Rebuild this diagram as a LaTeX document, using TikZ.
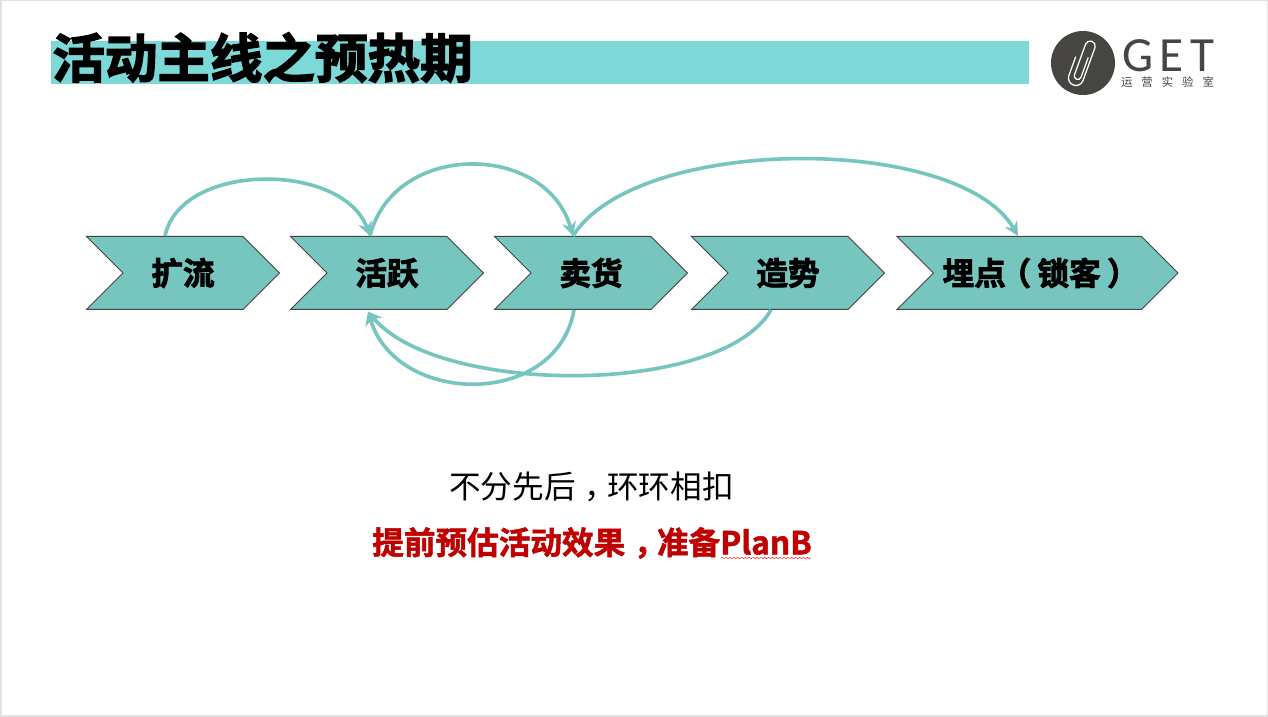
\documentclass[tikz,border=0pt]{standalone}
\usepackage{fontspec}
\usepackage{amsmath}
\setmainfont{Noto Sans CJK SC}
\newfontfamily\heavyfont[FakeBold=2.6]{Noto Sans CJK SC Bold}
\newfontfamily\redfont[FakeBold=1.6]{Noto Sans CJK SC Bold}
\newfontfamily\logofont{Carlito}
\usetikzlibrary{arrows.meta,shapes.symbols,decorations.pathmorphing}
\definecolor{teal}{HTML}{76C5BF}
\definecolor{barteal}{HTML}{7DD8D8}
\definecolor{logogray}{HTML}{474542}
\definecolor{framegray}{HTML}{E2E2E2}
\definecolor{planred}{HTML}{C00000}
\newcommand{\midcomma}{\makebox[1em][l]{\hspace{0.27em}，}}
\tikzstyle{chevron} = [signal, signal to = east, signal from = west, signal pointer angle = 90, draw = logogray, fill = teal, line width = 0.2mm, inner sep = 0pt, minimum height = 1.46cm, minimum width = 3.86cm, font = \heavyfont\fontsize{18}{20}\selectfont]
\tikzstyle{flow} = [draw = teal, line width = 0.72mm, >={Stealth[length = 2.8mm, width = 2.8mm]}]

\begin{document}
\begin{tikzpicture}
        \useasboundingbox (0, 0) rectangle (25.36, 14.34);
        \fill [white] (0, 0) rectangle (25.36, 14.34);
        \draw [framegray, line width = 0.6mm] (0, 0) rectangle (25.36, 14.34);

        \node (Bar) at (10.8, 13.09) [fill = barteal, minimum width = 19.56cm, minimum height = 0.86cm, inner sep = 0pt] {};
        \node (Title) at (1.04, 13.19) [anchor = west, inner sep = 0pt, font = \heavyfont\fontsize{29.9}{32}\selectfont] {活动主线之预热期};

        \node (Clip) at (21.66, 13.08) [circle, fill = logogray, minimum size = 1.28cm, inner sep = 0pt] {};
        \draw [white, line width = 0.25mm, rotate around = {-20:(Clip)}] (21.72, 13.22) -- (21.72, 12.80) arc (360:180:0.07) -- (21.58, 13.45) arc (180:0:0.10) -- (21.78, 12.75) arc (360:180:0.15) -- (21.48, 13.15);
        \node (Get) at (23.36, 13.22) [inner sep = 0pt, text = logogray, font = \logofont\fontsize{28}{30}\selectfont] {\makebox[1.84cm]{G\hfill E\hfill T}};
        \node (Sub) at (23.35, 12.70) [inner sep = 0pt, text = logogray, font = \fontsize{6.5}{8}\selectfont] {\makebox[1.86cm]{运\hfill 营\hfill 实\hfill 验\hfill 室}};

        \node (Kuoliu) at (3.66, 8.88) [chevron] {扩流};
        \node (Huoyue) at (7.74, 8.88) [chevron] {活跃};
        \node (Maihuo) at (11.82, 8.88) [chevron] {卖货};
        \node (Zaoshi) at (15.76, 8.88) [chevron] {造势};
        \node (Maidian) at (20.75, 8.88) [chevron, minimum width = 5.62cm] {埋点\makebox[1em][l]{\hspace{-0.2em}（}锁客\makebox[1em][l]{\hspace{0.2em}）}};

        \draw [flow, ->] ([xshift = -0.36cm]Kuoliu.north) to[out = 78, in = 110, out distance = 1.53cm, in distance = 1.58cm] ([xshift = -0.34cm]Huoyue.north);
        \draw [flow, ->] ([xshift = -0.34cm]Huoyue.north) to[out = 76, in = 106, out distance = 1.96cm, in distance = 1.96cm] ([xshift = -0.36cm]Maihuo.north);
        \draw [flow, ->] ([xshift = -0.36cm]Maihuo.north) to[out = 58, in = 120, out distance = 2.4cm, in distance = 2.36cm] ([xshift = -0.39cm]Maidian.north);
        \draw [flow, ->] ([xshift = -0.34cm]Maihuo.south) to[out = -100, in = -73, out distance = 2.0cm, in distance = 1.98cm] ([xshift = -0.38cm, yshift = -0.03cm]Huoyue.south);
        \draw [flow, ->] ([xshift = -0.34cm]Zaoshi.south) to[out = -120, in = -50, out distance = 2.0cm, in distance = 2.2cm] ([xshift = -0.38cm, yshift = -0.03cm]Huoyue.south);

        \node (Motto) at (11.83, 4.60) [font = \fontsize{18}{20}\selectfont] {不分先后\midcomma 环环相扣};
        \node (Plan) at (11.84, 3.48) [text = planred, font = \redfont\fontsize{18}{20}\selectfont] {提前预估活动效果\midcomma 准备PlanB};
        \draw [red, line width = 0.1mm, decorate, decoration = {snake, amplitude = 0.3pt, segment length = 2.2pt}] (14.42, 3.18) -- (16.22, 3.18);
\end{tikzpicture}
\end{document}
